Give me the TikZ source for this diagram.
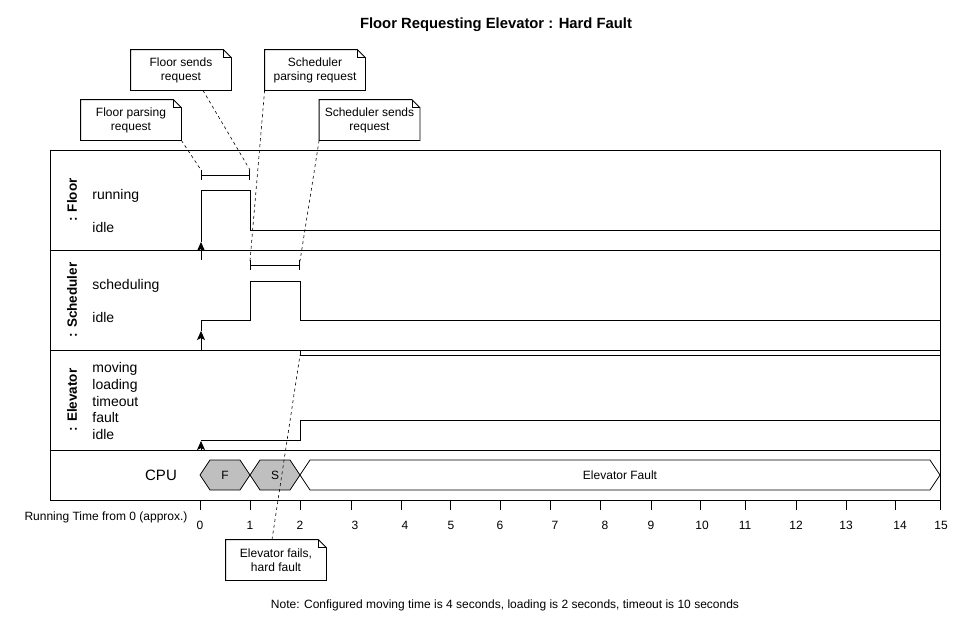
\documentclass[tikz,border=0pt]{standalone}
\usepackage{fontspec}
\setmainfont{Liberation Sans}
\usetikzlibrary{arrows.meta}

\begin{document}
\begin{tikzpicture}[x=1pt, y=-1pt, line width=0.8pt,
    txt/.style={inner sep=0pt, font=\fontsize{12}{14}\selectfont},
    note/.style={minimum width=100pt, minimum height=40pt, align=center, inner sep=1pt, font=\fontsize{12}{14}\selectfont},
    state/.style={anchor=west, inner sep=0pt, text height=10pt, text depth=3pt, font=\fontsize{14}{16}\selectfont},
    lane/.style={rotate=90, inner sep=0pt, font=\bfseries\fontsize{13.5}{16}\selectfont},
    hint/.style={line width=0.6pt, dash pattern=on 3pt off 3pt},
    span/.style={{Bar[width=10pt]}-{Bar[width=10pt]}},
    kick/.style={-{Stealth[length=9pt,width=8pt,inset=2pt]}}]

    % Page
    \fill[white] (0,0) rectangle (970,630);
    \useasboundingbox (0,0) rectangle (970,630);

    % Title
    \node[font=\bfseries\fontsize{14.8}{17}\selectfont] (title) at (496,25) {Floor Requesting Elevator : Hard Fault};

    % Frame and lanes
    \draw (50,150) rectangle (940,500);
    \foreach \y in {250,350,450} \draw (50,\y) -- (940,\y);

    \node[lane] (lfloor) at (72,200) {: Floor};
    \node[lane] (lsched) at (72,300) {: Scheduler};
    \node[lane] (lelev) at (72,400) {: Elevator};

    % States
    \node[state] (frun) at (92,196) {running};
    \node[state] (fidle) at (92,229) {idle};
    \node[state] (ssched) at (92,286) {scheduling};
    \node[state] (sidle) at (92,319) {idle};
    \node[state] (emov) at (92,369) {moving};
    \node[state] (eload) at (92,386) {loading};
    \node[state] (etime) at (92,403) {timeout};
    \node[state] (efault) at (92,419) {fault};
    \node[state] (eidle) at (92,436) {idle};

    % Floor
    \draw[kick] (201,260) -- (201,242);
    \draw (201,242) -- (201,190) -- (250,190) -- (250,230) -- (940,230);
    \draw[span] (201,175) -- (250,175);
    \coordinate (fb0) at (201,170);
    \coordinate (fb1) at (250,170);

    % Scheduler
    \draw[kick] (201,350) -- (201,331);
    \draw (201,331) -- (201,320) -- (250,320) -- (250,281) -- (300,281) -- (300,320) -- (940,320);
    \draw[span] (250,265) -- (300,265);
    \coordinate (sb0) at (250,261);
    \coordinate (sb1) at (300,261);

    % Elevator
    \draw[kick] (201,450) -- (201,441);
    \draw (201,441) -- (201,440) -- (300,440) -- (300,420) -- (940,420);
    \draw (300,350) -- (300,355) -- (940,355);
    \coordinate (ef) at (300,355);

    % CPU
    \node[txt, font=\fontsize{15}{18}\selectfont] (cpu) at (161,475) {CPU};
    \draw[fill=gray!50] (200,475) -- (210,460) -- (240,460) -- (250,475) -- (240,490) -- (210,490) -- cycle;
    \draw[fill=gray!50] (250,475) -- (260,460) -- (290,460) -- (300,475) -- (290,490) -- (260,490) -- cycle;
    \draw (300,475) -- (310,460) -- (930,460) -- (940,475) -- (930,490) -- (310,490) -- cycle;
    \node[txt] (cpuf) at (225,475) {F};
    \node[txt] (cpus) at (275,475) {S};
    \node[txt] (cpue) at (620,475) {Elevator Fault};

    % Time axis
    \node[txt] (axis) at (106,517) {Running Time from 0 (approx.)};
    \foreach \t/\x/\lx in {0/200/200, 1/250/250, 2/300/300, 3/351/355, 4/401/405, 5/450/451,
        6/500/500, 7/550/555, 8/600/605, 9/651/651, 10/700/702, 11/745/745, 12/796/796,
        13/846/846, 14/895/900, 15/940/941} {
        \draw (\x,500) -- (\x,510);
        \node[txt] (t\t) at (\lx,525) {\t};
    }

    % Notes
    \node[note] (fpr) at (131,120) {Floor parsing\\request};
    \node[note] (fsr) at (181,70) {Floor sends\\request};
    \node[note] (spr) at (315,70) {Scheduler\\parsing request};
    \node[note] (ssr) at (369.5,120) {Scheduler sends\\request};
    \node[note] (eff) at (276,560) {Elevator fails,\\hard fault};
    \foreach \n in {fpr,fsr,spr,ssr,eff} {
        \draw (\n.south west) -- (\n.north west) -- ([xshift=-8pt]\n.north east) -- ([yshift=-8pt]\n.north east) -- (\n.south east) -- cycle;
        \draw ([xshift=-8pt]\n.north east) -- ([xshift=-8pt,yshift=-8pt]\n.north east) -- ([yshift=-8pt]\n.north east);
    }

    \draw[hint] (fpr.south east) -- (fb0);
    \draw[hint] ([xshift=22pt]fsr.south) -- (fb1);
    \draw[hint] (spr.south west) -- (sb0);
    \draw[hint] (ssr.south west) -- (sb1);
    \draw[hint] ([xshift=-4pt]eff.north) -- (ef);

    % Footnote
    \node[txt] (memo) at (505,605) {Note: Configured moving time is 4 seconds, loading is 2 seconds, timeout is 10 seconds};
\end{tikzpicture}
\end{document}
